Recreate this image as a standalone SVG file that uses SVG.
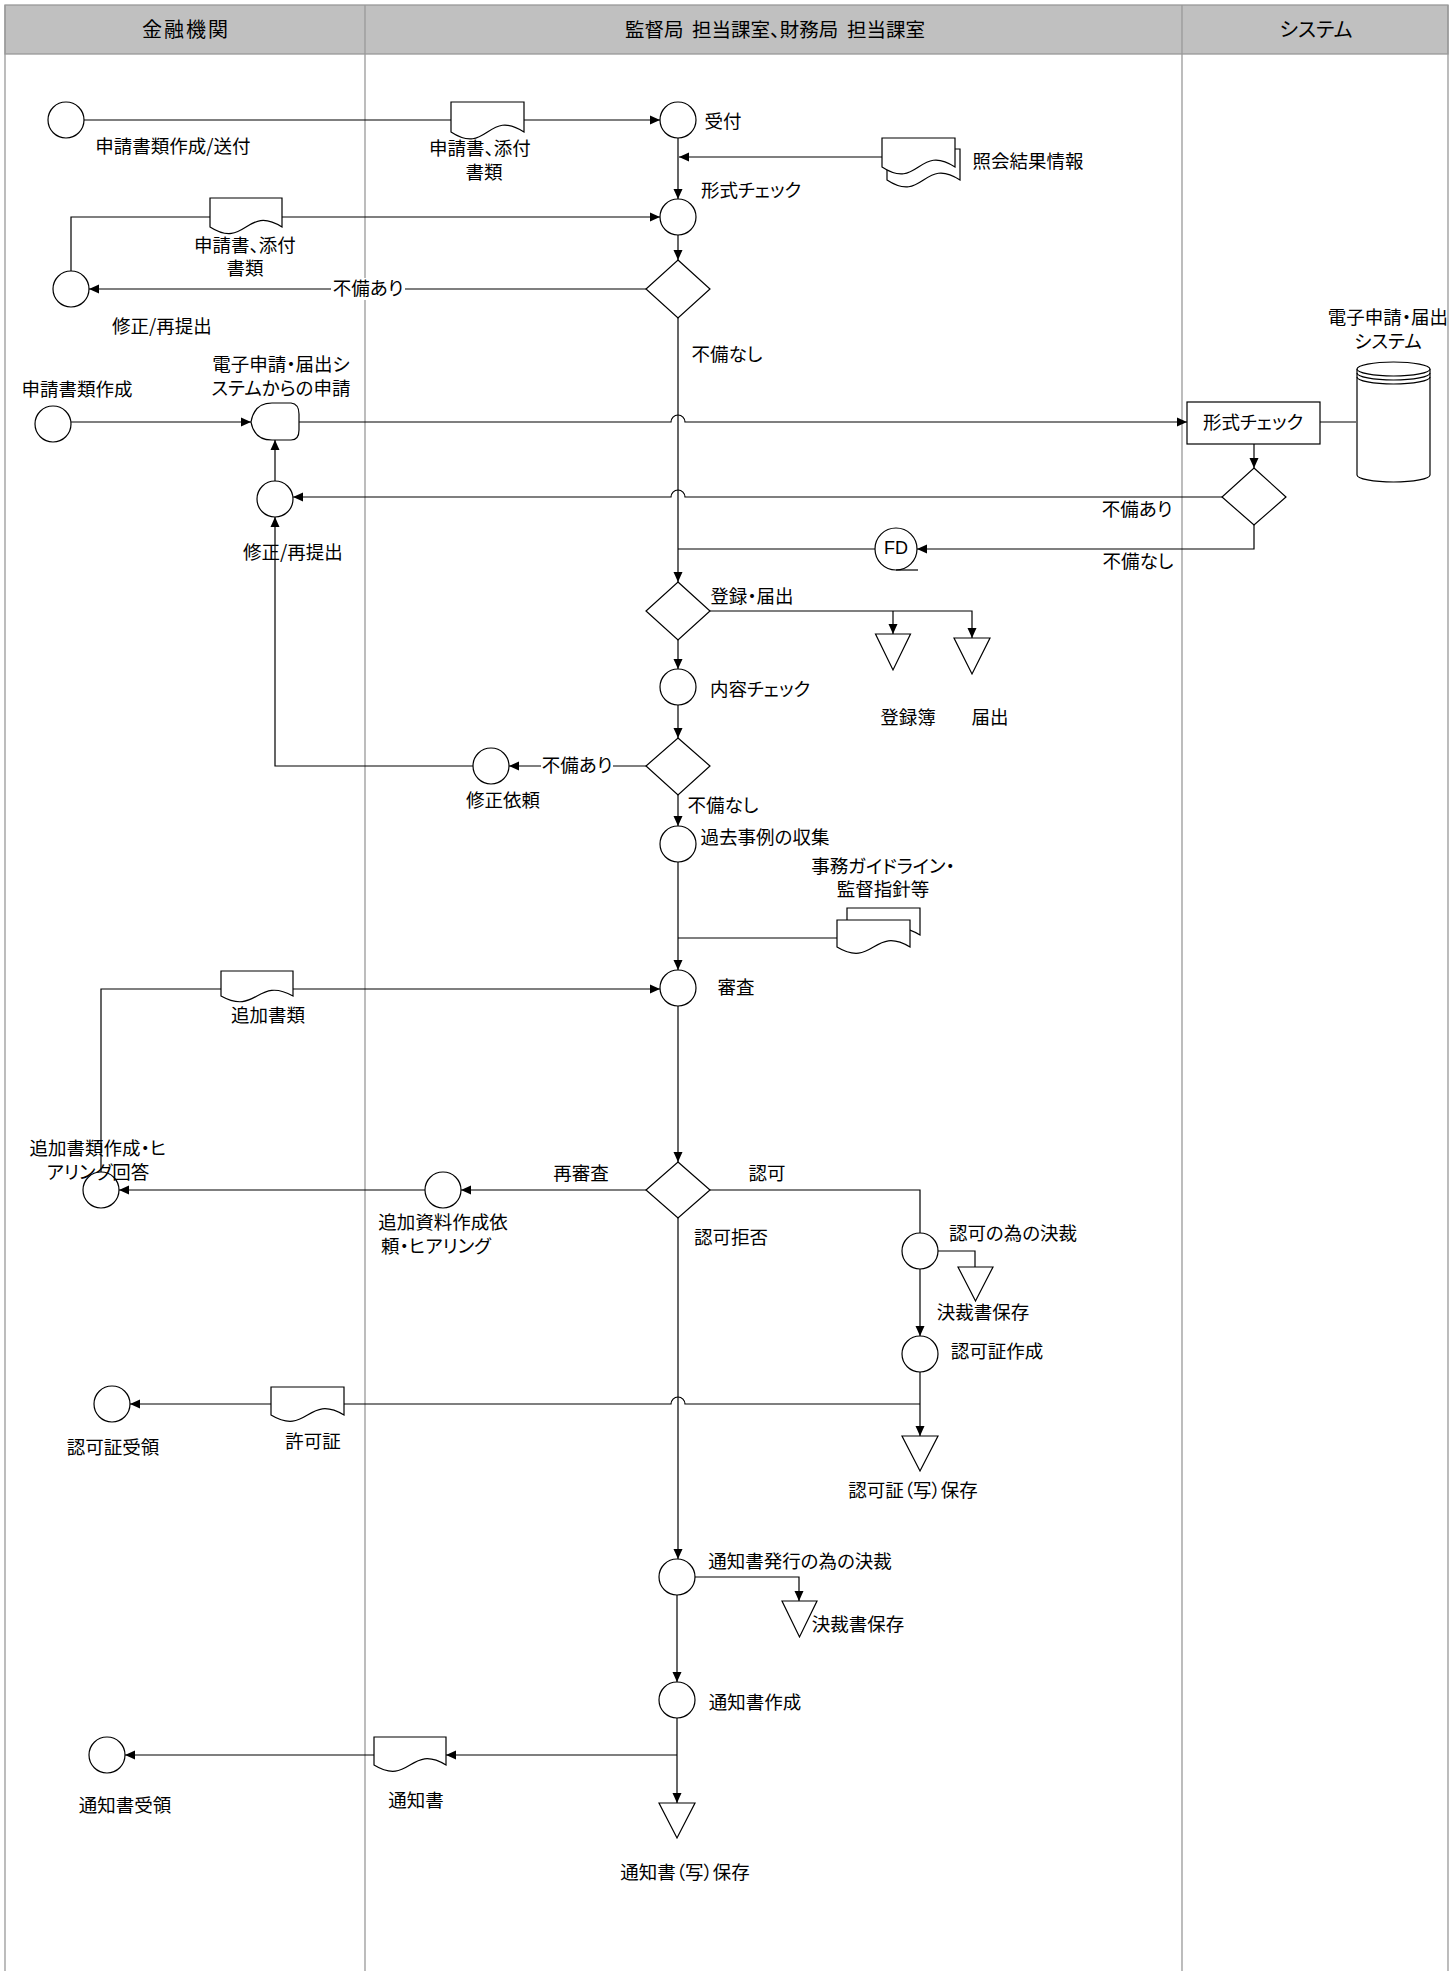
<svg xmlns="http://www.w3.org/2000/svg" width="1454" height="1971" viewBox="0 0 1454 1971">
<style>
text{font-family:"Noto Sans CJK JP","Liberation Sans",sans-serif;font-size:18.5px;fill:#000;text-anchor:middle;dominant-baseline:central;font-feature-settings:"palt";}
.hd{font-size:20px;}
.fd{font-family:"Liberation Sans","Noto Sans CJK JP",sans-serif;font-size:18px;}
.ln{fill:none;stroke:#000;stroke-width:1.2;}
.sh{fill:#fff;stroke:#000;stroke-width:1.2;}
.lane{fill:none;stroke:#999;stroke-width:1.3;}
.bg{fill:#fff;stroke:none;}
</style>
<defs>
<marker id="a" markerUnits="userSpaceOnUse" markerWidth="10" markerHeight="10" refX="10" refY="5" orient="auto"><path d="M0,0.5 L10,5 L0,9.5 Z" fill="#000"/></marker>
</defs>
<g id="lanes">
<rect x="0" y="0" width="1454" height="1971" fill="#fff"/>
<rect x="5" y="5" width="1443" height="49" fill="#c0c0c0" stroke="#999" stroke-width="1.3"/>
<line class="lane" x1="5" y1="5" x2="5" y2="1971"/>
<line class="lane" x1="1448" y1="5" x2="1448" y2="1971"/>
<line class="lane" x1="365" y1="5" x2="365" y2="1971"/>
<line class="lane" x1="1182" y1="5" x2="1182" y2="1971"/>
<text class="hd" x="186" y="28" style="letter-spacing:2px">金融機関</text>
<text class="hd" x="775" y="28" xml:space="preserve" style="white-space:pre;font-size:19.5px">監督局  担当課室、財務局  担当課室</text>
<text class="hd" x="1316" y="28">システム</text>
</g>
<g id="connectors">
<path class="ln" d="M84,120 H660" marker-end="url(#a)"/>
<path class="ln" d="M678,138 V199" marker-end="url(#a)"/>
<path class="ln" d="M882,157 H679" marker-end="url(#a)"/>
<path class="ln" d="M71,271 V217 H660" marker-end="url(#a)"/>
<path class="ln" d="M678,235 V260" marker-end="url(#a)"/>
<path class="ln" d="M646,289 H89" marker-end="url(#a)"/>
<rect class="bg" x="331" y="278" width="74" height="22"/>
<path class="ln" d="M678,318 V582" marker-end="url(#a)"/>
<path class="ln" d="M71,422 H251" marker-end="url(#a)"/>
<path class="ln" d="M299,422 H671 A7,7 0 0 1 685,422 H1187" marker-end="url(#a)"/>
<path class="ln" d="M1320,422 H1356"/>
<path class="ln" d="M1254,444 V468" marker-end="url(#a)"/>
<path class="ln" d="M1222,497 H685 A7,7 0 0 0 671,497 H293" marker-end="url(#a)"/>
<path class="ln" d="M1254,525 V549 H917" marker-end="url(#a)"/>
<path class="ln" d="M875,549 H678"/>
<path class="ln" d="M275,481 V440" marker-end="url(#a)"/>
<path class="ln" d="M473,766 H275 V517" marker-end="url(#a)"/>
<path class="ln" d="M710,611 H972 V638" marker-end="url(#a)"/>
<path class="ln" d="M893,611 V634" marker-end="url(#a)"/>
<path class="ln" d="M678,640 V669" marker-end="url(#a)"/>
<path class="ln" d="M678,705 V738" marker-end="url(#a)"/>
<path class="ln" d="M646,766 H509" marker-end="url(#a)"/>
<rect class="bg" x="541" y="755" width="72" height="22"/>
<path class="ln" d="M678,795 V826" marker-end="url(#a)"/>
<path class="ln" d="M678,862 V970" marker-end="url(#a)"/>
<path class="ln" d="M837,938 H678"/>
<path class="ln" d="M101,1172 V989 H660" marker-end="url(#a)"/>
<path class="ln" d="M678,1006 V1162" marker-end="url(#a)"/>
<path class="ln" d="M646,1190 H461" marker-end="url(#a)"/>
<path class="ln" d="M425,1190 H119" marker-end="url(#a)"/>
<path class="ln" d="M710,1190 H920 V1233"/>
<path class="ln" d="M938,1251 H975 V1267"/>
<path class="ln" d="M920,1269 V1336" marker-end="url(#a)" stroke-width="1.6"/>
<path class="ln" d="M920,1371 V1436" marker-end="url(#a)"/>
<path class="ln" d="M920,1404 H685 A7,7 0 0 0 671,1404 H130" marker-end="url(#a)"/>
<path class="ln" d="M678,1218 V1559" marker-end="url(#a)"/>
<path class="ln" d="M694,1577 H799 V1601" marker-end="url(#a)"/>
<path class="ln" d="M677,1595 V1682" marker-end="url(#a)"/>
<path class="ln" d="M677,1718 V1803" marker-end="url(#a)"/>
<path class="ln" d="M677,1755 H446" marker-end="url(#a)"/>
<path class="ln" d="M374,1755 H125" marker-end="url(#a)"/>
<text x="368" y="287">不備あり</text>
<text x="577" y="764">不備あり</text>
<text x="727" y="353">不備なし</text>
<text x="1137" y="508">不備あり</text>
<text x="1138" y="560">不備なし</text>
<text x="752" y="595">登録・届出</text>
<text x="723" y="804">不備なし</text>
<text x="581" y="1172">再審査</text>
<text x="767" y="1172">認可</text>
<text x="731" y="1236">認可拒否</text>
</g>
<g id="n-sakusei-soufu"><circle class="sh" cx="66" cy="120" r="18"/><text x="173" y="145">申請書類作成/送付</text></g>
<g id="n-doc1"><path class="sh" d="M451,102 H524 V132 C487.5,108 487.5,156 451,132 Z"/><text x="480" y="147">申請書、添付</text><text x="484" y="171">書類</text></g>
<g id="n-uketsuke"><circle class="sh" cx="678" cy="120" r="18"/><text x="723" y="120">受付</text></g>
<g id="n-shokai"><path class="sh" d="M887,149 H960 V180 C923.5,156 923.5,204 887,180 Z"/><path class="sh" d="M882,138 H955 V167 C918.5,143 918.5,191 882,167 Z"/><text x="1028" y="160">照会結果情報</text></g>
<g id="n-keishiki"><circle class="sh" cx="678" cy="217" r="18"/><text x="751" y="189">形式チェック</text></g>
<g id="n-doc2"><path class="sh" d="M210,198 H282 V227 C246,204 246,250 210,227 Z"/><text x="245" y="244">申請書、添付</text><text x="245" y="267">書類</text></g>
<g id="n-dia1"><polygon class="sh" points="678,260 710,289 678,318 646,289"/></g>
<g id="n-shusei1"><circle class="sh" cx="71" cy="289" r="18"/><text x="162" y="325">修正/再提出</text></g>
<g id="n-sakusei"><circle class="sh" cx="53" cy="424" r="18"/><text x="77" y="388">申請書類作成</text></g>
<g id="n-display"><path class="sh" d="M251,422 C253,410 260,403 272,403 H291 Q299,404 299,414 V430 Q299,440 291,440 H272 C260,440 253,433 251,422 Z"/><text x="281" y="363">電子申請・届出シ</text><text x="281" y="387">ステムからの申請</text></g>
<g id="n-shusei2"><circle class="sh" cx="275" cy="499" r="18"/><text x="293" y="551">修正/再提出</text></g>
<g id="n-syskeishiki"><rect class="sh" x="1187" y="402" width="133" height="42"/><text x="1253" y="421">形式チェック</text></g>
<g id="n-cyl"><path class="sh" d="M1357,369 V475 A36.5,7 0 0 0 1430,475 V369"/><ellipse class="sh" cx="1393.5" cy="369" rx="36.5" ry="7"/><path class="ln" d="M1357,373 A36.5,7 0 0 0 1430,373 M1357,377 A36.5,7 0 0 0 1430,377"/><text x="1388" y="316">電子申請・届出</text><text x="1388" y="340">システム</text></g>
<g id="n-sysdia"><polygon class="sh" points="1254,468 1286,497 1254,525 1222,497"/></g>
<g id="n-fd"><circle class="sh" cx="896" cy="549" r="21"/><path class="ln" d="M896,570 H918"/><text class="fd" x="896" y="548">FD</text></g>
<g id="n-dia2"><polygon class="sh" points="678,582 710,611 678,640 646,611"/></g>
<g id="n-torokubo"><polygon class="sh" points="875.5,634 910.5,634 893,670"/><text x="908" y="716">登録簿</text></g>
<g id="n-todokede"><polygon class="sh" points="954,638 990,638 972,674"/><text x="990" y="716">届出</text></g>
<g id="n-naiyo"><circle class="sh" cx="678" cy="687" r="18"/><text x="760" y="688">内容チェック</text></g>
<g id="n-dia3"><polygon class="sh" points="678,738 710,766 678,795 646,766"/></g>
<g id="n-iraisyusei"><circle class="sh" cx="491" cy="766" r="18"/><text x="503" y="799">修正依頼</text></g>
<g id="n-kako"><circle class="sh" cx="678" cy="844" r="18"/><text x="765" y="836">過去事例の収集</text></g>
<g id="n-jimu"><path class="sh" d="M847,908 H920 V935 C883.5,913 883.5,957 847,935 Z"/><path class="sh" d="M837,920 H910 V947 C873.5,925 873.5,969 837,947 Z"/><text x="883" y="865">事務ガイドライン・</text><text x="883" y="888">監督指針等</text></g>
<g id="n-shinsa"><circle class="sh" cx="678" cy="988" r="18"/><text x="736" y="986">審査</text></g>
<g id="n-tsuika"><path class="sh" d="M221,971 H293 V996 C257,976 257,1016 221,996 Z"/><text x="268" y="1014">追加書類</text></g>
<g id="n-dia4"><polygon class="sh" points="678,1162 710,1190 678,1218 646,1190"/></g>
<g id="n-tsuikairai"><circle class="sh" cx="443" cy="1190" r="18"/><text x="443" y="1221">追加資料作成依</text><text x="436" y="1245">頼・ヒアリング</text></g>
<g id="n-tsuikasakusei"><circle class="sh" cx="101" cy="1190" r="18"/><text x="98" y="1147">追加書類作成・ヒ</text><text x="98" y="1171">アリング回答</text></g>
<g id="n-kessai1"><circle class="sh" cx="920" cy="1251" r="18"/><text x="1013" y="1232">認可の為の決裁</text></g>
<g id="n-kessaisho1"><polygon class="sh" points="958,1267 993,1267 975.5,1301"/><text x="983" y="1311">決裁書保存</text></g>
<g id="n-ninkasho"><circle class="sh" cx="920" cy="1354" r="18"/><text x="997" y="1350">認可証作成</text></g>
<g id="n-ninkahozon"><polygon class="sh" points="902,1436 938,1436 920,1471"/><text x="913" y="1489">認可証（写）保存</text></g>
<g id="n-kyokasho"><path class="sh" d="M271,1387 H344 V1415 C307.5,1393 307.5,1437 271,1415 Z"/><text x="313" y="1440">許可証</text></g>
<g id="n-juryo1"><circle class="sh" cx="112" cy="1404" r="18"/><text x="113" y="1446">認可証受領</text></g>
<g id="n-kessai2"><circle class="sh" cx="677" cy="1577" r="18"/><text x="800" y="1560">通知書発行の為の決裁</text></g>
<g id="n-kessaisho2"><polygon class="sh" points="782,1601 817,1601 799.5,1637"/><text x="858" y="1623">決裁書保存</text></g>
<g id="n-tsuchisakusei"><circle class="sh" cx="677" cy="1700" r="18"/><text x="755" y="1701">通知書作成</text></g>
<g id="n-tsuchihozon"><polygon class="sh" points="659,1803 695,1803 677,1838"/><text x="685" y="1871">通知書（写）保存</text></g>
<g id="n-tsuchisho"><path class="sh" d="M374,1737 H446 V1765 C410,1743 410,1787 374,1765 Z"/><text x="416" y="1799">通知書</text></g>
<g id="n-juryo2"><circle class="sh" cx="107" cy="1755" r="18"/><text x="125" y="1804">通知書受領</text></g>
</svg>
